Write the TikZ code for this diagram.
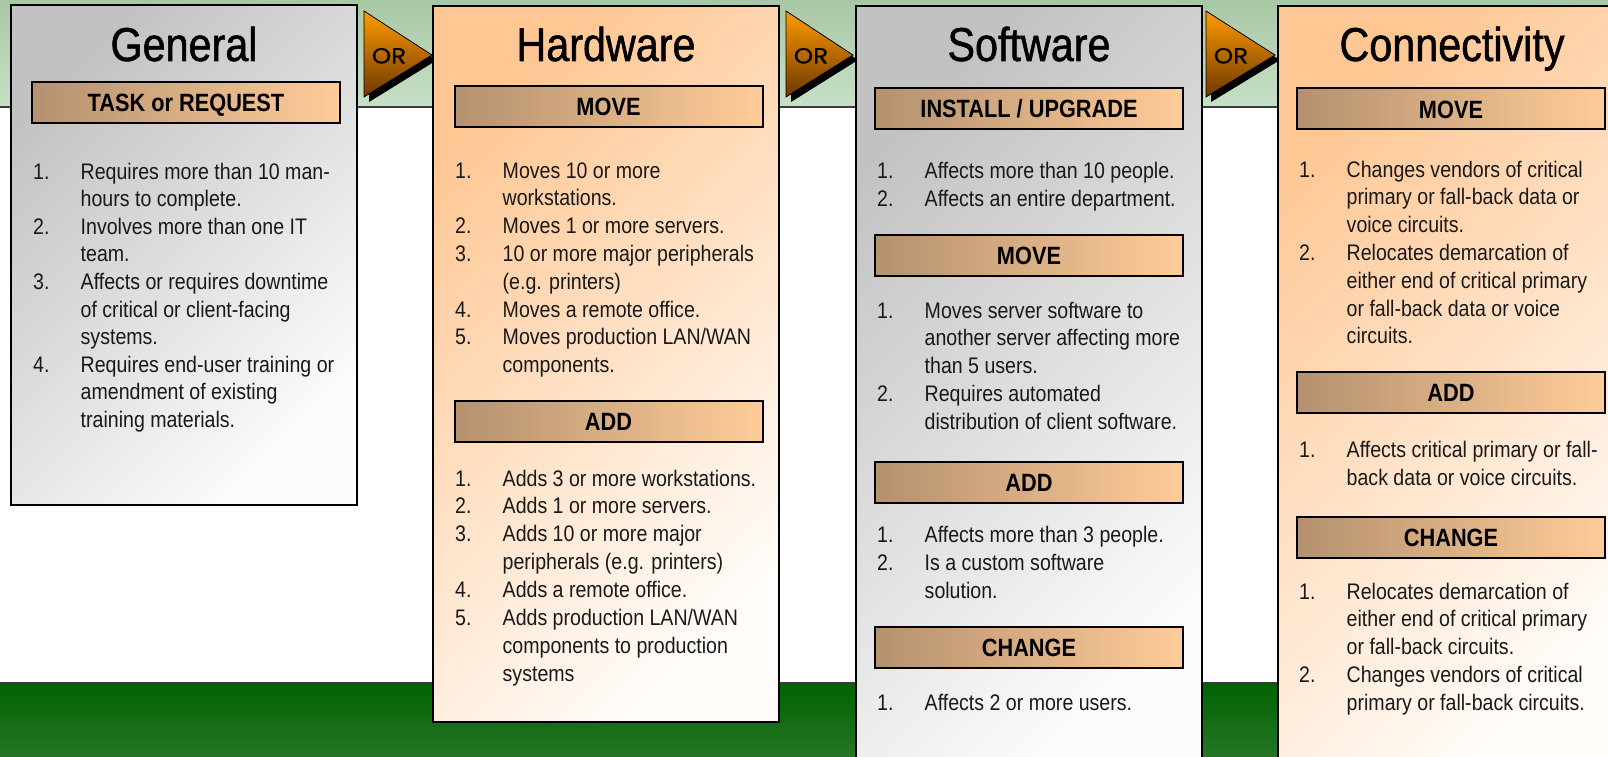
\documentclass[tikz,border=0pt]{standalone}
\usepackage{fontspec}
\setmainfont{Liberation Sans}[FakeStretch=0.87]
\newfontfamily\titlefont{Liberation Sans}[FakeStretch=0.87, FakeBold=1.1]
\newfontfamily\orfont{Poppins}[FakeStretch=1.12, FakeBold=0.8]

\definecolor{bandtop}{RGB}{168,199,164}
\definecolor{bandbot}{RGB}{199,224,199}
\definecolor{grasstop}{RGB}{0,99,0}
\definecolor{grassbot}{RGB}{38,118,38}
\definecolor{rulegray}{RGB}{60,60,60}
\definecolor{grayA}{RGB}{194,194,194}
\definecolor{grayB}{RGB}{252,252,252}
\definecolor{peachA}{RGB}{255,199,148}
\definecolor{peachB}{RGB}{255,252,249}
\definecolor{barA}{RGB}{180,145,111}
\definecolor{barB}{RGB}{255,204,153}
\definecolor{orA}{RGB}{255,155,0}
\definecolor{orB}{RGB}{110,55,0}
\definecolor{listtext}{RGB}{25,25,25}

\tikzset{
  panelgray/.style={draw=black, line width=2pt, minimum width=346pt,
    top color=grayA, bottom color=grayB, shading angle=45, inner sep=0},
  panelpeach/.style={draw=black, line width=2pt, minimum width=346pt,
    top color=peachA, bottom color=peachB, shading angle=45, inner sep=0},
  bar/.style={draw=black, line width=2pt, left color=barA, right color=barB,
    minimum width=308pt, minimum height=41pt, inner sep=0,
    text height=18pt, text depth=0pt, font=\bfseries\fontsize{25}{28}\selectfont},
  title/.style={font=\titlefont\fontsize{47.5}{50}\selectfont, anchor=base, inner sep=0},
  lst/.style={font=\fontsize{22.5}{27}\selectfont, text=listtext, anchor=base west, inner sep=0},
  ortext/.style={font=\orfont\fontsize{22}{22}\selectfont, anchor=base, inner sep=0},
  orshape/.style={draw=black, line width=0.8pt, top color=orA, bottom color=orB},
}

% numbered line and continuation line of a list
\newcommand\numline[5]{%
  \node[lst] (#1n) at (#2,#3) {#4};
  \node[lst] (#1t) at (#2+47.5,#3) {#5};}
\newcommand\contline[4]{%
  \node[lst] (#1) at (#2+47.5,#3) {#4};}

% "OR" arrow: name, left edge, tip x
\newcommand\orarrow[3]{%
  \fill[black] (#2+5,16) -- (#3+5,60) -- (#2+5,102) -- cycle;
  \path[orshape] (#2,11) -- (#3,55) -- (#2,97) -- cycle;
  \node[ortext] (#1) at (#2+25,63.5) {OR};}

\begin{document}
\begin{tikzpicture}[x=1pt, y=-1pt]
\useasboundingbox (0,0) rectangle (1608,757);
\clip (0,0) rectangle (1608,757);

% background bands
\shade[top color=bandtop, bottom color=bandbot] (0,0) rectangle (1608,107);
\draw[rulegray, line width=2pt] (0,107) -- (1608,107);
\shade[top color=grasstop, bottom color=grassbot] (0,683) rectangle (1608,757);
\draw[rulegray, line width=2pt] (0,683) -- (1608,683);

% OR arrows between the columns
\orarrow{or1}{364}{432}
\orarrow{or2}{786}{853}
\orarrow{or3}{1206}{1275}

% column panels
\node[panelgray,  minimum height=500pt] (general) at (184,255) {};
\node[panelpeach, minimum height=716pt] (hardware) at (606,364) {};
\node[panelgray,  minimum height=768pt] (software) at (1029,390) {};
\node[panelpeach, minimum height=768pt] (connect) at (1451,390) {};

% titles
\node[title] (tgen) at (184,61) {General};
\node[title] (thw)  at (606,61) {Hardware};
\node[title] (tsw)  at (1029,61) {Software};
\node[title] (tcon) at (1452,61) {Connectivity};

% section bars
\node[bar] (gtask) at (186,102.5) {TASK or REQUEST};
\node[bar] (hmove) at (608.5,106.5) {MOVE};
\node[bar] (hadd)  at (608.5,421.5) {ADD};
\node[bar] (sinst) at (1029,108.5) {INSTALL / UPGRADE};
\node[bar] (smove) at (1029,255.5) {MOVE};
\node[bar] (sadd)  at (1029,482.5) {ADD};
\node[bar] (schg)  at (1029,647.5) {CHANGE};
\node[bar] (cmove) at (1451,109) {MOVE};
\node[bar] (cadd)  at (1451,392) {ADD};
\node[bar] (cchg)  at (1451,537) {CHANGE};

% General
\def\gx{33}
\numline{g1}{\gx}{179}{1.}{Requires more than 10 man-}
\contline{g1b}{\gx}{206.6}{hours to complete.}
\numline{g2}{\gx}{234.2}{2.}{Involves more than one IT}
\contline{g2b}{\gx}{261.8}{team.}
\numline{g3}{\gx}{289.4}{3.}{Affects or requires downtime}
\contline{g3b}{\gx}{317}{of critical or client-facing}
\contline{g3c}{\gx}{344.6}{systems.}
\numline{g4}{\gx}{372.2}{4.}{Requires end-user training or}
\contline{g4b}{\gx}{399.8}{amendment of existing}
\contline{g4c}{\gx}{427.4}{training materials.}

% Hardware
\def\hx{455}
\numline{hm1}{\hx}{178}{1.}{Moves 10 or more}
\contline{hm1b}{\hx}{205.8}{workstations.}
\numline{hm2}{\hx}{233.6}{2.}{Moves 1 or more servers.}
\numline{hm3}{\hx}{261.4}{3.}{10 or more major peripherals}
\contline{hm3b}{\hx}{289.2}{(e.g. printers)}
\numline{hm4}{\hx}{317}{4.}{Moves a remote office.}
\numline{hm5}{\hx}{344.8}{5.}{Moves production LAN/WAN}
\contline{hm5b}{\hx}{372.6}{components.}
\numline{ha1}{\hx}{486}{1.}{Adds 3 or more workstations.}
\numline{ha2}{\hx}{513.9}{2.}{Adds 1 or more servers.}
\numline{ha3}{\hx}{541.8}{3.}{Adds 10 or more major}
\contline{ha3b}{\hx}{569.7}{peripherals (e.g. printers)}
\numline{ha4}{\hx}{597.6}{4.}{Adds a remote office.}
\numline{ha5}{\hx}{625.5}{5.}{Adds production LAN/WAN}
\contline{ha5b}{\hx}{653.4}{components to production}
\contline{ha5c}{\hx}{681.3}{systems}

% Software
\def\sx{877}
\numline{si1}{\sx}{178}{1.}{Affects more than 10 people.}
\numline{si2}{\sx}{206}{2.}{Affects an entire department.}
\numline{sm1}{\sx}{318}{1.}{Moves server software to}
\contline{sm1b}{\sx}{345.7}{another server affecting more}
\contline{sm1c}{\sx}{373.4}{than 5 users.}
\numline{sm2}{\sx}{401.5}{2.}{Requires automated}
\contline{sm2b}{\sx}{429.2}{distribution of client software.}
\numline{sa1}{\sx}{542}{1.}{Affects more than 3 people.}
\numline{sa2}{\sx}{570}{2.}{Is a custom software}
\contline{sa2b}{\sx}{598}{solution.}
\numline{sc1}{\sx}{710}{1.}{Affects 2 or more users.}

% Connectivity
\def\cx{1299}
\numline{cm1}{\cx}{177}{1.}{Changes vendors of critical}
\contline{cm1b}{\cx}{204.8}{primary or fall-back data or}
\contline{cm1c}{\cx}{232.6}{voice circuits.}
\numline{cm2}{\cx}{260.4}{2.}{Relocates demarcation of}
\contline{cm2b}{\cx}{288.2}{either end of critical primary}
\contline{cm2c}{\cx}{316}{or fall-back data or voice}
\contline{cm2d}{\cx}{343.8}{circuits.}
\numline{ca1}{\cx}{457}{1.}{Affects critical primary or fall-}
\contline{ca1b}{\cx}{485}{back data or voice circuits.}
\numline{cc1}{\cx}{599}{1.}{Relocates demarcation of}
\contline{cc1b}{\cx}{626.7}{either end of critical primary}
\contline{cc1c}{\cx}{654.4}{or fall-back circuits.}
\numline{cc2}{\cx}{682}{2.}{Changes vendors of critical}
\contline{cc2b}{\cx}{710}{primary or fall-back circuits.}
\end{tikzpicture}
\end{document}
